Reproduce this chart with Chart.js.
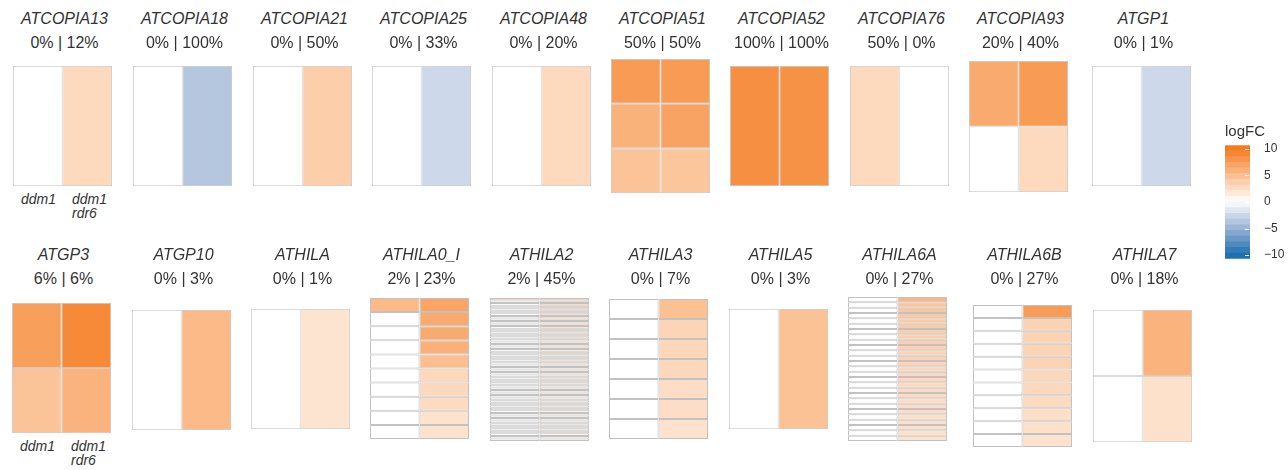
<!DOCTYPE html>
<html>
<head>
<meta charset="utf-8">
<script src="https://cdn.jsdelivr.net/npm/chart.js@4"></script>
<style>
  body { margin: 0; background: #fff; }
  #wrap { position: relative; width: 1288px; height: 470px; overflow: hidden;
          font-family: "Liberation Sans", Arial, sans-serif; color: #333; }
  .t { position: absolute; width: 160px; text-align: center; font-size: 16px; line-height: 18px; font-style: italic; white-space: nowrap; }
  .s { position: absolute; width: 160px; text-align: center; font-size: 16px; line-height: 18px; white-space: nowrap; }
  .lab { position: absolute; font-size: 14px; line-height: 14.5px; font-style: italic; white-space: nowrap; }
  .key { position: absolute; font-size: 15px; line-height: 17px; }
  canvas { position: absolute; }
</style>
</head>
<body>
<div id="wrap"></div>
<script>
// TE families, one heatmap each
const names = ['ATCOPIA13', 'ATCOPIA18', 'ATCOPIA21', 'ATCOPIA25', 'ATCOPIA48',
  'ATCOPIA51', 'ATCOPIA52', 'ATCOPIA76', 'ATCOPIA93', 'ATGP1',
  'ATGP3', 'ATGP10', 'ATHILA', 'ATHILA0_I', 'ATHILA2',
  'ATHILA3', 'ATHILA5', 'ATHILA6A', 'ATHILA6B', 'ATHILA7'];
const samples = ['ddm1', 'ddm1 rdr6'];
const pctDdm1 = [0, 0, 0, 0, 0, 50, 100, 50, 20, 0, 6, 0, 0, 2, 2, 0, 0, 0, 0, 0];
const pctRdr6 = [12, 100, 50, 33, 20, 50, 100, 0, 40, 1, 6, 3, 1, 23, 45, 7, 3, 27, 27, 18];

// logFC per copy (row), ddm1 column
const ddm1Vals = [
  [0], [0], [0], [0], [0],
  [7.6, 5.9, 4.6],
  [8.5], [2.9],
  [6.5, 0],
  [0],
  [7.3, 4.6],
  [0], [0],
  [5.3, 0, 0, 0, 0, 0, 0, 0, 0, 0],
  [3.5, 0, 0, 0, 0, 0, 0, 0, 0, 0, 0, 0, 0, 0, 0, 0, 0, 0, 0, 0,
   0, 0, 0, 0, 0, 0, 0, 0, 0, 0, 0, 0, 0, 0, 0, 0, 0, 0, 0, 0,
   0, 0, 0, 0, 0, 0, 0, 0, 0, 0, 0, 0, 0, 0, 0, 0],
  [0, 0, 0, 0, 0, 0, 0],
  [0],
  [0, 0, 0, 0, 0, 0, 0, 0, 0, 0, 0, 0, 0, 0, 0, 0, 0, 0, 0, 0, 0, 0, 0, 0, 0, 0, 0],
  [0, 0, 0, 0, 0, 0, 0, 0, 0, 0, 0],
  [0, 0]
];
// logFC per copy (row), ddm1 rdr6 column
const rdr6Vals = [
  [2.9], [-3.7], [3.8], [-2.5], [2.9],
  [7.6, 7.0, 4.4],
  [8.3], [0],
  [7.6, 2.9],
  [-2.5],
  [8.9, 5.8],
  [5.3], [2.1],
  [6.9, 6.5, 6.5, 6.0, 4.9, 3.0, 3.0, 2.8, 2.2, 2.2],
  [4.5, 3.5, 3.2, 3.0, 2.8, 2.8, 2.6, 2.6, 2.5, 2.5, 2.4, 2.4, 2.3, 2.3, 2.2, 2.2, 2.2, 2.1, 2.1, 2.0,
   2.0, 2.0, 1.9, 1.9, 1.8, 1.8, 1.8, 1.7, 1.7, 1.6, 1.6, 1.6, 1.5, 1.5, 1.5, 1.4, 1.4, 1.4, 1.3, 1.3,
   1.3, 1.2, 1.2, 1.2, 1.1, 1.1, 1.1, 1.0, 1.0, 1.0, 0.9, 0.9, 0.8, 0.8, 0.7, 0.7],
  [4.8, 3.2, 3.1, 3.0, 2.6, 2.6, 2.2],
  [4.7],
  [5.5, 4.6, 4.4, 4.2, 4.0, 3.9, 3.8, 3.7, 3.6, 3.5, 3.4, 3.3, 3.2, 3.1, 3.0, 3.0, 2.9, 2.8, 2.8, 2.7,
   2.6, 2.6, 2.5, 2.4, 2.4, 2.3, 2.2],
  [7.6, 3.5, 3.4, 3.4, 3.3, 3.1, 3.0, 2.8, 2.5, 2.3, 2.2],
  [5.8, 2.3]
];

// colour key
const keyBreaks = [-10.7, -9.63, -8.56, -7.49, -6.42, -5.35, -4.28, -3.21, -2.14, -1.07, 0,
  1.07, 2.14, 3.21, 4.28, 5.35, 6.42, 7.49, 8.56, 9.63, 10.7];
const keyTicks = [-10, -5, 0, 5, 10];

// layout of the heatmap boxes
const boxX = [13, 133, 253, 372, 492, 611, 730, 850, 969, 1092,
  12, 132, 251, 370, 490, 609, 729, 848, 973, 1093];
const boxY = [66, 66, 66, 66, 66, 59, 66, 66, 61, 66,
  303, 310, 309, 298, 298, 299, 309, 297, 305, 310];
const boxH = [120, 120, 120, 120, 120, 134, 120, 120, 131, 120,
  130, 120, 120, 141, 143, 140, 120, 144, 142, 132];
const boxW = 99;
const titleTop = [10, 246];
const subTop = [34, 270];

// diverging palette: white -> mid -> end, mid at |5|
const orangeMid = [251, 190, 143], orangeEnd = [244, 123, 32];
const blueMid = [154, 179, 212], blueEnd = [30, 112, 176];
function fc(v) {
  const mid = v >= 0 ? orangeMid : blueMid;
  const end = v >= 0 ? orangeEnd : blueEnd;
  const a = Math.min(Math.abs(v), 10);
  let c;
  if (a <= 5) c = mid.map(m => Math.round(255 + (m - 255) * a / 5));
  else c = mid.map((m, k) => Math.round(m + (end[k] - m) * (a - 5) / 5));
  return 'rgb(' + c.join(',') + ')';
}

const wrap = document.getElementById('wrap');
function addDiv(cls, html, left, top) {
  const d = document.createElement('div');
  d.className = cls;
  d.innerHTML = html;
  d.style.left = left + 'px';
  d.style.top = top + 'px';
  wrap.appendChild(d);
  return d;
}

names.forEach((name, i) => {
  const row = i < 10 ? 0 : 1;
  const x = boxX[i], y = boxY[i], h = boxH[i];
  const cx = x + boxW / 2 + 2;
  addDiv('t', name, cx - 80, titleTop[row]);
  addDiv('s', pctDdm1[i] + '% | ' + pctRdr6[i] + '%', cx - 80, subTop[row]);

  const cv = document.createElement('canvas');
  cv.width = boxW;
  cv.height = h;
  cv.style.left = x + 'px';
  cv.style.top = y + 'px';
  wrap.appendChild(cv);

  const left = ddm1Vals[i], right = rdr6Vals[i];
  const bw = left.length > 5 ? 1 : 0.8;
  new Chart(cv, {
    type: 'bar',
    data: {
      labels: samples,
      datasets: left.map((v, r) => ({
        data: [1, 1],
        backgroundColor: [fc(v), fc(right[r])],
        borderColor: '#c2c2c2',
        borderWidth: bw,
        borderSkipped: false,
        inflateAmount: 0,
        barPercentage: 1,
        categoryPercentage: 1
      }))
    },
    options: {
      responsive: false,
      animation: false,
      layout: { padding: 0 },
      plugins: { legend: { display: false }, tooltip: { enabled: false } },
      scales: {
        x: { display: false, stacked: true },
        y: { display: false, stacked: true, reverse: true, min: 0, max: left.length }
      }
    }
  });

  // sample labels under the first panel of each row
  if (i === 0 || i === 10) {
    addDiv('lab', 'ddm1', x + 8, y + h + 5.7);
    addDiv('lab', 'ddm1<br>rdr6', x + 59, y + h + 5.7);
  }
});

// legend colour bar
addDiv('key', 'logFC', 1225, 121.5);
const kc = document.createElement('canvas');
kc.width = 60;
kc.height = 140;
kc.style.left = '1225px';
kc.style.top = '132px';
wrap.appendChild(kc);

const whiteTicks = {
  id: 'whiteTicks',
  afterDatasetsDraw(chart) {
    const { ctx, chartArea } = chart;
    const ys = chart.scales.y;
    ctx.save();
    ctx.strokeStyle = '#fff';
    ctx.lineWidth = 1;
    keyTicks.forEach(v => {
      const py = Math.round(ys.getPixelForValue(v)) + 0.5;
      ctx.beginPath();
      ctx.moveTo(chartArea.right - 5, py);
      ctx.lineTo(chartArea.right - 1, py);
      ctx.stroke();
    });
    ctx.restore();
  }
};

new Chart(kc, {
  type: 'bar',
  data: {
    labels: ['logFC'],
    datasets: keyBreaks.slice(0, -1).map((lo, k) => ({
      data: [[lo, keyBreaks[k + 1]]],
      backgroundColor: fc((lo + keyBreaks[k + 1]) / 2),
      borderWidth: 0,
      grouped: false,
      barPercentage: 1,
      categoryPercentage: 1
    }))
  },
  options: {
    responsive: false,
    animation: false,
    layout: { padding: { top: 10, bottom: 10, left: 0, right: 0 } },
    plugins: { legend: { display: false }, tooltip: { enabled: false } },
    scales: {
      x: { display: false },
      y: {
        position: 'right',
        min: -10.7,
        max: 10.7,
        grid: { display: false },
        border: { display: false },
        afterFit: s => { s.width = 35; },
        afterBuildTicks: s => { s.ticks = keyTicks.map(v => ({ value: v })); },
        ticks: {
          padding: 6,
          color: '#333',
          font: { family: '"Liberation Sans", Arial, sans-serif', size: 12 },
          callback: v => (v < 0 ? '\u2212' + Math.abs(v) : String(v))
        }
      }
    }
  },
  plugins: [whiteTicks]
});
</script>
</body>
</html>
